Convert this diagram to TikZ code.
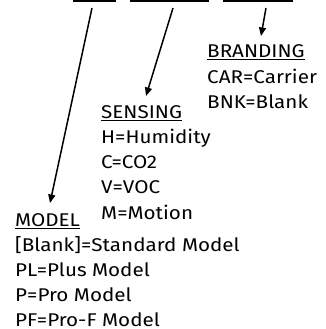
\documentclass[tikz,border=0pt]{standalone}
\usepackage{fontspec}
\setmainfont[FakeStretch=1.12]{Fira Sans}
\usetikzlibrary{arrows.meta}
\begin{document}
\begin{tikzpicture}[x=1bp,y=-1bp,
  txt/.style={anchor=base west, inner sep=0pt, text depth=0pt, font=\fontsize{18.5}{20}\selectfont},
  arr/.style={line width=1.5bp, -{Triangle[length=8.5bp,width=7bp]}},
  seg/.style={line width=1.8bp},
  uline/.style={line width=1bp}]
\useasboundingbox (0,0) rectangle (326,329);
% top code segments
\coordinate (s1a) at (73,0.9); \coordinate (s1b) at (116,0.9);
\coordinate (s2a) at (130,0.9); \coordinate (s2b) at (209,0.9);
\coordinate (s3a) at (223,0.9); \coordinate (s3b) at (293,0.9);
\draw[seg] (s1a) -- (s1b);
\draw[seg] (s2a) -- (s2b);
\draw[seg] (s3a) -- (s3b);
% branding
\node[txt] (brand) at (207,57) {BRANDING};
\node[txt] (car) at (207,83) {CAR=Carrier};
\node[txt] (bnk) at (207,108) {BNK=Blank};
% sensing
\node[txt] (sens) at (101,118) {SENSING};
\node[txt] (hum) at (101,143) {H=Humidity};
\node[txt] (co2) at (101,168) {C=CO2};
\node[txt] (voc) at (101,193) {V=VOC};
\node[txt] (mot) at (101,219) {M=Motion};
% model
\node[txt] (model) at (15,226) {MODEL};
\node[txt] (std) at (15,251) {[Blank]=Standard Model};
\node[txt] (plus) at (15,276) {PL=Plus Model};
\node[txt] (pro) at (15,301) {P=Pro Model};
\node[txt] (prof) at (15,326) {PF=Pro-F Model};
% underlines
\foreach \n in {brand,sens,model}
  \draw[uline] ([yshift=-2.2bp]\n.base west) -- ([yshift=-2.2bp]\n.base east);
% arrows
\coordinate (m0) at (92,8);  \coordinate (m1) at (50,203);
\coordinate (e0) at (173,8); \coordinate (e1) at (146,96);
\coordinate (b0) at (266,8); \coordinate (b1) at (261,36);
\draw[arr] (m0) -- (m1);
\draw[arr] (e0) -- (e1);
\draw[arr] (b0) -- (b1);
\end{tikzpicture}
\end{document}
